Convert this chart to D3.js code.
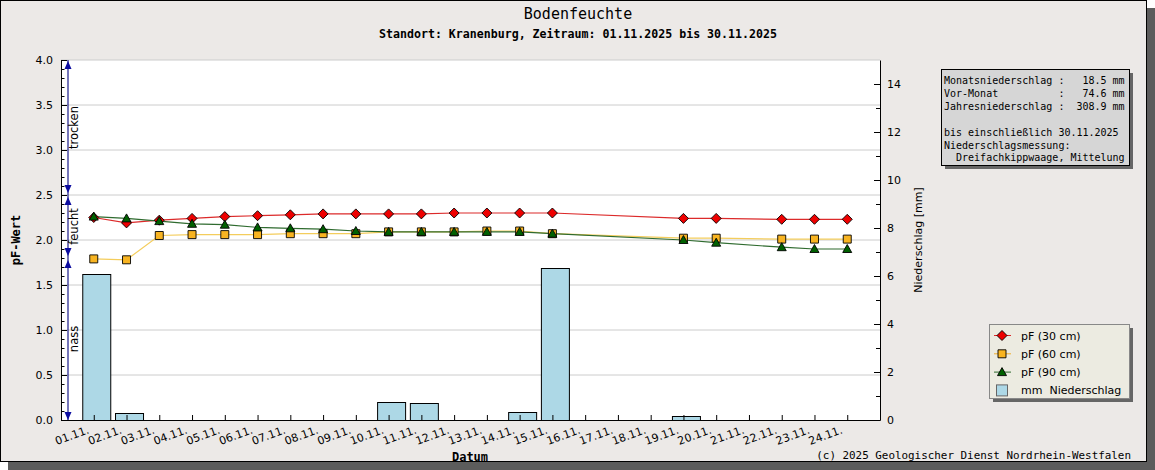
<!DOCTYPE html>
<html>
<head>
<meta charset="utf-8">
<script src="https://cdn.jsdelivr.net/npm/d3@7"></script>
<style>
body { margin: 0; background: #fff; }
text { font-family: "DejaVu Sans", sans-serif; font-size: 11px; fill: #000; }
.mono { font-family: "DejaVu Sans Mono", monospace; }
</style>
</head>
<body>
<svg id="chart" width="1155" height="470"></svg>
<script>
// Bodenfeuchte Kranenburg, November 2025
const dayLabels = ["01.11.", "02.11.", "03.11.", "04.11.", "05.11.", "06.11.", "07.11.", "08.11.",
    "09.11.", "10.11.", "11.11.", "12.11.", "13.11.", "14.11.", "15.11.", "16.11.",
    "17.11.", "18.11.", "19.11.", "20.11.", "21.11.", "22.11.", "23.11.", "24.11."];

// days with pF readings
const pfDays = [1, 2, 3, 4, 5, 6, 7, 8, 9, 10, 11, 12, 13, 14, 15, 19, 20, 22, 23, 24];
const pf30 = [2.25, 2.19, 2.22, 2.24, 2.26, 2.27, 2.28, 2.29, 2.29, 2.29, 2.29, 2.30, 2.30, 2.30, 2.30, 2.24, 2.24, 2.23, 2.23, 2.23];
const pf60 = [1.79, 1.78, 2.05, 2.06, 2.06, 2.06, 2.07, 2.07, 2.07, 2.09, 2.09, 2.09, 2.10, 2.10, 2.07, 2.02, 2.02, 2.01, 2.01, 2.01];
const pf90 = [2.26, 2.24, 2.21, 2.18, 2.17, 2.14, 2.13, 2.12, 2.10, 2.09, 2.09, 2.09, 2.09, 2.09, 2.07, 2.00, 1.97, 1.92, 1.90, 1.90];

// precipitation [mm]
const rainDays = [1, 2, 10, 11, 14, 15, 19];
const rain = [6.1, 0.3, 0.75, 0.7, 0.35, 6.35, 0.15];

const pfTicks = [0, 0.5, 1.0, 1.5, 2.0, 2.5, 3.0, 3.5, 4.0];
const rainTicks = [0, 2, 4, 6, 8, 10, 12, 14];

const ranges = [
    { label: "trocken", from: 2.5, to: 4.0 },
    { label: "feucht", from: 1.8, to: 2.5 },
    { label: "nass", from: 0, to: 1.8 }
];

const infoLines = [
    "Monatsniederschlag :   18.5 mm",
    "Vor-Monat          :   74.6 mm",
    "Jahresniederschlag :  308.9 mm",
    "",
    "bis einschließlich 30.11.2025",
    "Niederschlagsmessung:",
    "  Dreifachkippwaage, Mittelung"
];

const series = [
    { name: "pF (30 cm)", values: pf30, line: "#dc2a2a", fill: "#ee0000", shape: "diamond" },
    { name: "pF (60 cm)", values: pf60, line: "#f4cd5c", fill: "#f8b421", shape: "square" },
    { name: "pF (90 cm)", values: pf90, line: "#2f6b2f", fill: "#006000", shape: "triangle" }
];

const shapes = {
    diamond: "M0,-5L5,0L0,5L-5,0Z",
    square: "M-4,-4L4,-4L4,4L-4,4Z",
    triangle: "M0,-4.5L4.5,3.5L-4.5,3.5Z"
};

const svg = d3.select("#chart");

// frame + shadow
svg.append("rect").attr("x", 8).attr("y", 8).attr("width", 1147).attr("height", 462).attr("fill", "#5c5c5c");
svg.append("rect").attr("x", 0.5).attr("y", 0.5).attr("width", 1146).attr("height", 461)
    .attr("fill", "#ece9e7").attr("stroke", "#000");

const x = d3.scaleLinear().domain([0, 25]).range([61, 880]);
const y = d3.scaleLinear().domain([0, 4]).range([420, 60]);
const y2 = d3.scaleLinear().domain([0, 15]).range([420, 60]);

// plot area
svg.append("rect").attr("x", 61).attr("y", 60).attr("width", 819).attr("height", 360).attr("fill", "#fff");

// grid
svg.append("g").selectAll("line")
    .data(pfTicks.filter(t => t > 0))
    .join("line")
    .attr("x1", 61).attr("x2", 880)
    .attr("y1", d => y(d)).attr("y2", d => y(d))
    .attr("stroke", "#cccccc");

// precipitation bars
svg.append("g").selectAll("rect")
    .data(rainDays.map((d, i) => ({ d, v: rain[i] })))
    .join("rect")
    .attr("x", d => x(d.d) - 11.5 + 0.5)
    .attr("y", d => Math.round(y2(d.v)) + 0.5)
    .attr("width", 28)
    .attr("height", d => 420 - Math.round(y2(d.v)))
    .attr("fill", "#add8e6")
    .attr("stroke", "#000");

// pF lines and markers
series.forEach(s => {
    const pts = pfDays.map((d, i) => [x(d), y(s.values[i])]);
    svg.append("path")
        .attr("d", d3.line()(pts))
        .attr("fill", "none")
        .attr("stroke", s.line)
        .attr("stroke-width", 1.2);
});
series.forEach(s => {
    svg.append("g").selectAll("path")
        .data(pfDays.map((d, i) => [x(d), y(s.values[i])]))
        .join("path")
        .attr("d", shapes[s.shape])
        .attr("transform", p => `translate(${p[0]},${p[1]})`)
        .attr("fill", s.fill)
        .attr("stroke", "#000")
        .attr("stroke-width", 0.9);
});

// axes
const axisLeft = svg.append("g").attr("transform", "translate(61,0)")
    .call(d3.axisLeft(y).tickValues(pfTicks).tickSize(-6).tickSizeOuter(0).tickPadding(8).tickFormat(d3.format(".1f")));
svg.append("g").attr("transform", "translate(61,0)")
    .call(d3.axisLeft(y).tickValues(d3.range(0, 4.001, 0.1)).tickSize(-3.5).tickFormat(""))
    .select(".domain").remove();

const axisRight = svg.append("g").attr("transform", "translate(880,0)")
    .call(d3.axisRight(y2).tickValues(rainTicks).tickSize(-6).tickSizeOuter(0).tickPadding(7).tickFormat(d3.format("d")));
svg.append("g").attr("transform", "translate(880,0)")
    .call(d3.axisRight(y2).tickValues(d3.range(1, 15, 2)).tickSize(-4).tickFormat(""))
    .select(".domain").remove();

const axisBottom = svg.append("g").attr("transform", "translate(0,420)")
    .call(d3.axisBottom(x).tickValues(d3.range(1, dayLabels.length + 1)).tickSize(-5).tickSizeOuter(0).tickFormat(""));

svg.selectAll(".tick text").attr("font-family", "DejaVu Sans").attr("font-size", 11).attr("fill", "#000");
svg.selectAll(".tick line, .domain").attr("stroke", "#000");

// date labels
svg.append("g").selectAll("text")
    .data(dayLabels)
    .join("text")
    .attr("text-anchor", "end")
    .attr("transform", (d, i) => `translate(${x(i + 1) - 4},433) rotate(-20)`)
    .text(d => d);

// range indicator on the left
const ind = svg.append("g");
ind.append("line").attr("x1", 68).attr("x2", 68).attr("y1", y(4)).attr("y2", y(0))
    .attr("stroke", "#1a1a8a").attr("stroke-width", 1.2);
ranges.forEach(r => {
    const top = y(r.to) + (r.to === 4 ? 1 : 2);
    const bot = y(r.from) - (r.from === 0 ? 0 : 2);
    ind.append("path").attr("d", `M68,${top}L71.5,${top + 8}L64.5,${top + 8}Z`).attr("fill", "#0c0ca0");
    ind.append("path").attr("d", `M68,${bot}L71.5,${bot - 8}L64.5,${bot - 8}Z`).attr("fill", "#0c0ca0");
    ind.append("text")
        .attr("transform", `translate(78,${(y(r.to) + y(r.from)) / 2}) rotate(-90)`)
        .attr("text-anchor", "middle")
        .style("font-size", "11.5px")
        .text(r.label);
});

// titles
svg.append("text").attr("class", "mono").attr("x", 578).attr("y", 19)
    .attr("text-anchor", "middle").style("font-size", "15px").text("Bodenfeuchte");
svg.append("text").attr("class", "mono").attr("x", 578).attr("y", 38)
    .attr("text-anchor", "middle").style("font-size", "11.6px").style("font-weight", "bold")
    .text("Standort: Kranenburg, Zeitraum: 01.11.2025 bis 30.11.2025");

svg.append("text").attr("class", "mono")
    .attr("transform", "translate(20,240) rotate(-90)")
    .attr("text-anchor", "middle").style("font-size", "12px").style("font-weight", "bold")
    .text("pF-Wert");
svg.append("text").attr("class", "mono").attr("x", 470).attr("y", 461)
    .attr("text-anchor", "middle").style("font-size", "12px").style("font-weight", "bold")
    .text("Datum");
svg.append("text")
    .attr("transform", "translate(922,240) rotate(-90)")
    .attr("text-anchor", "middle")
    .text("Niederschlag [mm]");

svg.append("text").attr("class", "mono").attr("x", 1131).attr("y", 459)
    .attr("text-anchor", "end").style("font-size", "10.9px")
    .text("(c) 2025 Geologischer Dienst Nordrhein-Westfalen");

// info box
svg.append("rect").attr("x", 945).attr("y", 73).attr("width", 188).attr("height", 96).attr("fill", "#666");
svg.append("rect").attr("x", 941.5).attr("y", 69.5).attr("width", 188).attr("height", 96)
    .attr("fill", "#d6d6d6").attr("stroke", "#000");
svg.append("g").selectAll("text")
    .data(infoLines)
    .join("text")
    .attr("class", "mono")
    .attr("x", 944)
    .attr("y", (d, i) => 84 + i * 12.9)
    .style("font-size", "10px")
    .style("white-space", "pre")
    .text(d => d);

// legend
svg.append("rect").attr("x", 993).attr("y", 328).attr("width", 140).attr("height", 74).attr("fill", "#666");
svg.append("rect").attr("x", 989.5).attr("y", 324.5).attr("width", 140).attr("height", 74)
    .attr("fill", "#ecebe1").attr("stroke", "#888");
const legendRows = series.map(s => ({ label: s.name, s }))
    .concat([{ label: "mm  Niederschlag", s: null }]);
const lg = svg.append("g").selectAll("g")
    .data(legendRows)
    .join("g")
    .attr("transform", (d, i) => `translate(1002,${335.5 + i * 18.3})`);
lg.filter(d => d.s).append("line")
    .attr("x1", -8).attr("x2", 9)
    .attr("stroke", d => d.s.line === "#f4cd5c" ? "#f0b030" : d.s.line);
lg.filter(d => d.s).append("path")
    .attr("d", d => shapes[d.s.shape])
    .attr("fill", d => d.s.fill)
    .attr("stroke", "#000")
    .attr("stroke-width", 0.9);
lg.filter(d => !d.s).append("rect")
    .attr("x", -5.5).attr("y", -5.5).attr("width", 11).attr("height", 11)
    .attr("fill", "#add8e6").attr("stroke", "#666");
lg.append("text")
    .attr("x", 19).attr("y", 4)
    .style("white-space", "pre")
    .text(d => d.label);
</script>
</body>
</html>
